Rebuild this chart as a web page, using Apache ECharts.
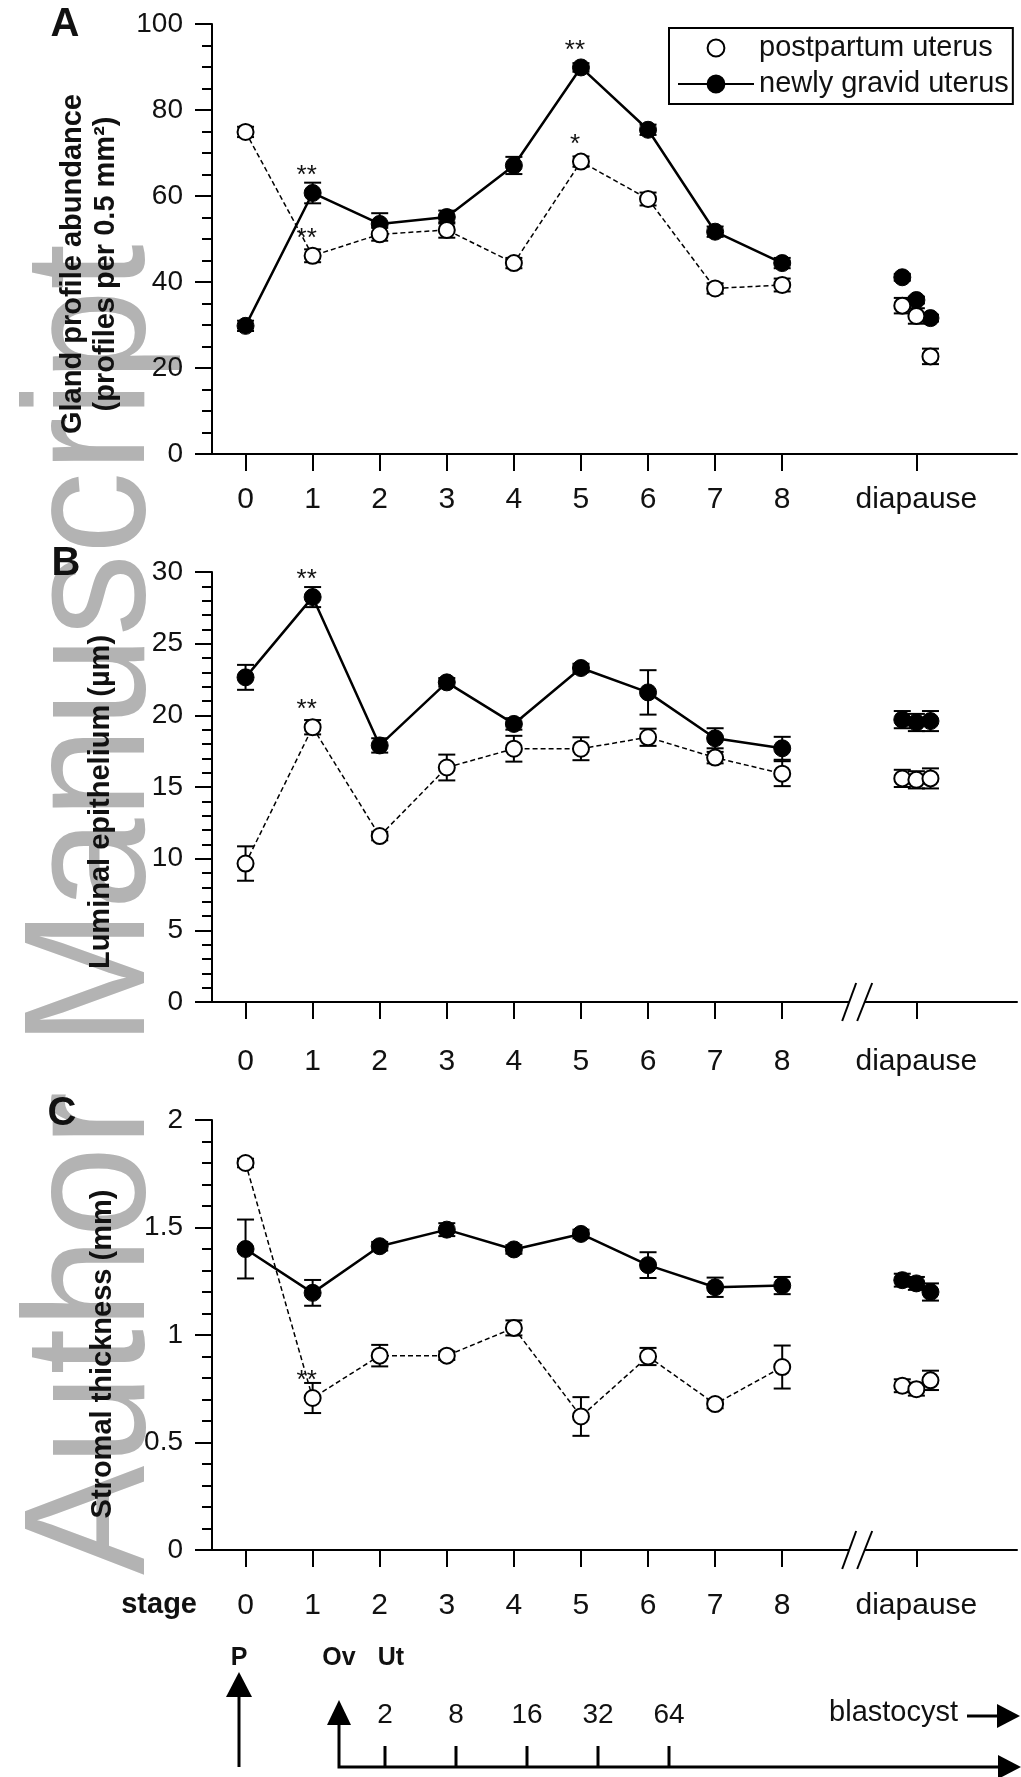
<!DOCTYPE html>
<html>
<head>
<meta charset="utf-8">
<script src="https://cdn.jsdelivr.net/npm/echarts@6/dist/echarts.min.js"></script>
<style>
html,body{margin:0;padding:0;background:#fff;}
#main{width:1021px;height:1777px;}
</style>
</head>
<body>
<div id="main"></div>
<script>
// ---------- data ----------
const stages = [0, 1, 2, 3, 4, 5, 6, 7, 8];
const diapX = [9.79, 10, 10.21];
const xTickValues = [0, 1, 2, 3, 4, 5, 6, 7, 8, 10];
const xTickLabels = ['0', '1', '2', '3', '4', '5', '6', '7', '8', 'diapause'];
const breakAt = [9.11];

// Panel A: gland profile abundance
const gravidA = [29.8, 60.7, 53.5, 55.1, 67.1, 89.9, 75.4, 51.7, 44.4];
const gravidA_err = [1.2, 2.4, 2.5, 1.5, 2.0, 1.0, 1.2, 1.2, 1.2];
const gravidA_diap = [41.1, 35.8, 31.6];
const gravidA_diapErr = [0.8, 0.8, 0.8];
const postA = [74.9, 46.1, 51.1, 52.1, 44.4, 68.0, 59.3, 38.5, 39.3];
const postA_err = [1.2, 1.5, 1.5, 1.8, 1.2, 1.2, 1.5, 1.2, 1.5];
const postA_diap = [34.5, 32.1, 22.7];
const postA_diapErr = [1.8, 1.8, 1.8];
const sigGravidA = ['', '**', '', '', '', '**', '', '', ''];
const sigPostA = ['', '**', '', '', '', '*', '', '', ''];

// Panel B: luminal epithelium
const gravidB = [22.65, 28.25, 17.9, 22.3, 19.4, 23.3, 21.6, 18.4, 17.7];
const gravidB_err = [0.87, 0.7, 0.5, 0.3, 0.4, 0.3, 1.55, 0.7, 0.8];
const gravidB_diap = [19.7, 19.5, 19.6];
const gravidB_diapErr = [0.6, 0.6, 0.7];
const postB = [9.66, 19.17, 11.58, 16.36, 17.67, 17.67, 18.47, 17.05, 15.93];
const postB_err = [1.2, 0.5, 0.3, 0.9, 0.9, 0.8, 0.6, 0.4, 0.87];
const postB_diap = [15.6, 15.5, 15.6];
const postB_diapErr = [0.6, 0.6, 0.7];
const sigGravidB = ['', '**', '', '', '', '', '', '', ''];
const sigPostB = ['', '**', '', '', '', '', '', '', ''];

// Panel C: stromal thickness
const gravidC = [1.40, 1.196, 1.413, 1.49, 1.398, 1.47, 1.325, 1.222, 1.23];
const gravidC_err = [0.137, 0.06, 0.02, 0.03, 0.02, 0.02, 0.06, 0.045, 0.04];
const gravidC_diap = [1.255, 1.24, 1.20];
const gravidC_diapErr = [0.03, 0.03, 0.04];
const postC = [1.80, 0.707, 0.904, 0.904, 1.033, 0.621, 0.90, 0.679, 0.851];
const postC_err = [0.02, 0.07, 0.05, 0.02, 0.035, 0.09, 0.04, 0.02, 0.10];
const postC_diap = [0.764, 0.748, 0.789];
const postC_diapErr = [0.03, 0.03, 0.045];
const sigGravidC = ['', '', '', '', '', '', '', '', ''];
const sigPostC = ['', '**', '', '', '', '', '', '', ''];

// embryo development diagram labels
const cellCounts = ['2', '8', '16', '32', '64'];

const namePost = 'postpartum uterus';
const nameGravid = 'newly gravid uterus';

// ---------- layout / style ----------
const FONT = '"Liberation Sans", Arial, Helvetica, sans-serif';
const INK = '#111';

const panels = [
  { top: 24, yMin: 0, yMax: 100, interval: 20, minorSplit: 4, labelMargin: 31,
    yName: 'Gland profile abundance\n(profiles per 0.5 mm²)', nameGap: 90, nameShift: 25,
    gravid: gravidA, gravidErr: gravidA_err, gravidDiap: gravidA_diap, gravidDiapErr: gravidA_diapErr,
    post: postA, postErr: postA_err, postDiap: postA_diap, postDiapErr: postA_diapErr,
    sigGravid: sigGravidA, sigPost: sigPostA, brk: false },
  { top: 572, yMin: 0, yMax: 30, interval: 5, minorSplit: 5, labelMargin: 45,
    yName: 'Luminal epithelium (µm)', nameGap: 95, nameShift: 15,
    gravid: gravidB, gravidErr: gravidB_err, gravidDiap: gravidB_diap, gravidDiapErr: gravidB_diapErr,
    post: postB, postErr: postB_err, postDiap: postB_diap, postDiapErr: postB_diapErr,
    sigGravid: sigGravidB, sigPost: sigPostB, brk: true },
  { top: 1120, yMin: 0, yMax: 2, interval: 0.5, minorSplit: 5, labelMargin: 41,
    yName: 'Stromal thickness (mm)', nameGap: 93, nameShift: 19,
    gravid: gravidC, gravidErr: gravidC_err, gravidDiap: gravidC_diap, gravidDiapErr: gravidC_diapErr,
    post: postC, postErr: postC_err, postDiap: postC_diap, postDiapErr: postC_diapErr,
    sigGravid: sigGravidC, sigPost: sigPostC, brk: true }
];

function errRender(params, api) {
  const x = api.value(0), y = api.value(1), e = api.value(2);
  const t = api.coord([x, y + e]);
  const b = api.coord([x, y - e]);
  const w = 8.5;
  const st = { stroke: '#000', lineWidth: 2 };
  return {
    type: 'group',
    children: [
      { type: 'line', shape: { x1: t[0], y1: t[1], x2: b[0], y2: b[1] }, style: st },
      { type: 'line', shape: { x1: t[0] - w, y1: t[1], x2: t[0] + w, y2: t[1] }, style: st },
      { type: 'line', shape: { x1: b[0] - w, y1: b[1], x2: b[0] + w, y2: b[1] }, style: st }
    ]
  };
}

function breakRender(params, api) {
  const c = api.coord([api.value(0), api.value(1)]);
  const cx = c[0], cy = c[1];
  const st = { stroke: '#000', lineWidth: 2 };
  return {
    type: 'group',
    children: [
      { type: 'rect', shape: { x: cx - 7, y: cy - 3, width: 15, height: 6 }, style: { fill: '#fff' } },
      { type: 'line', shape: { x1: cx - 14.5, y1: cy + 19, x2: cx - 0.5, y2: cy - 19 }, style: st },
      { type: 'line', shape: { x1: cx + 0.5, y1: cy + 19, x2: cx + 15.5, y2: cy - 19 }, style: st }
    ]
  };
}

const sigLabel = { fontSize: 26, color: INK, fontFamily: FONT, position: 'top', distance: -5, offset: [-6, 0] };

function withSig(values, sig) {
  return values.map((v, i) => {
    const item = { value: [stages[i], v] };
    if (sig[i]) item.label = Object.assign({ show: true, formatter: sig[i] }, sigLabel);
    return item;
  });
}

const grids = [], xAxes = [], yAxes = [], series = [];

panels.forEach((p, i) => {
  grids.push({ left: 212, width: 805, top: p.top, height: 430 });
  xAxes.push({
    gridIndex: i, type: 'value', min: -0.5, max: 11.5,
    axisLine: { onZero: false, lineStyle: { color: '#000', width: 2 } },
    axisTick: { show: true, customValues: xTickValues, length: 17, lineStyle: { color: '#000', width: 2 } },
    axisLabel: {
      customValues: xTickValues, fontSize: 30, fontFamily: FONT, color: INK, margin: p.labelMargin,
      formatter: v => { const k = xTickValues.indexOf(Math.round(v * 100) / 100); return k >= 0 ? xTickLabels[k] : ''; }
    },
    splitLine: { show: false }
  });
  yAxes.push({
    gridIndex: i, type: 'value', min: p.yMin, max: p.yMax, interval: p.interval,
    axisLine: { show: true, onZero: false, lineStyle: { color: '#000', width: 2 } },
    axisTick: { show: true, length: 17, lineStyle: { color: '#000', width: 2 } },
    minorTick: { show: true, splitNumber: p.minorSplit, length: 10, lineStyle: { color: '#000', width: 2 } },
    axisLabel: { fontSize: 28, fontFamily: FONT, color: INK, margin: 29 },
    splitLine: { show: false },
    name: p.yName, nameLocation: 'middle', nameRotate: 90, nameGap: p.nameGap,
    nameTextStyle: { fontSize: 29, fontWeight: 'bold', fontFamily: FONT, color: INK, lineHeight: 33,
      padding: [0, 2 * p.nameShift, 0, 0] }
  });

  const errData = [];
  stages.forEach((s, k) => { errData.push([s, p.gravid[k], p.gravidErr[k]]); errData.push([s, p.post[k], p.postErr[k]]); });
  diapX.forEach((s, k) => { errData.push([s, p.gravidDiap[k], p.gravidDiapErr[k]]); errData.push([s, p.postDiap[k], p.postDiapErr[k]]); });

  series.push({
    type: 'custom', name: 'err' + i, xAxisIndex: i, yAxisIndex: i, z: 1, clip: false,
    renderItem: errRender, encode: { x: 0, y: 1 }, data: errData, silent: true
  });

  series.push({
    type: 'line', name: nameGravid, xAxisIndex: i, yAxisIndex: i, z: 3,
    symbol: 'circle', symbolSize: 17, showAllSymbol: true,
    itemStyle: { color: '#000', borderColor: '#000', borderWidth: 1 },
    lineStyle: { color: '#000', width: 2.5 },
    data: withSig(p.gravid, p.sigGravid)
  });
  series.push({
    type: 'line', name: namePost, xAxisIndex: i, yAxisIndex: i, z: 4,
    symbol: 'circle', symbolSize: 16, showAllSymbol: true,
    itemStyle: { color: '#fff', borderColor: '#000', borderWidth: 2 },
    lineStyle: { color: '#000', width: 1.5, type: [5, 3] },
    data: withSig(p.post, p.sigPost)
  });
  series.push({
    type: 'scatter', name: nameGravid, xAxisIndex: i, yAxisIndex: i, z: 3,
    symbol: 'circle', symbolSize: 17,
    itemStyle: { color: '#000', borderColor: '#000', borderWidth: 1, opacity: 1 },
    data: diapX.map((x, k) => [x, p.gravidDiap[k]])
  });
  series.push({
    type: 'scatter', name: namePost, xAxisIndex: i, yAxisIndex: i, z: 4,
    symbol: 'circle', symbolSize: 16,
    itemStyle: { color: '#fff', borderColor: '#000', borderWidth: 2, opacity: 1 },
    data: diapX.map((x, k) => [x, p.postDiap[k]])
  });
  if (p.brk) {
    series.push({
      type: 'custom', name: 'break' + i, xAxisIndex: i, yAxisIndex: i, z: 5, clip: false, silent: true,
      renderItem: breakRender, encode: { x: 0, y: 1 }, data: breakAt.map(b => [b, p.yMin])
    });
  }
});

// ---------- decorations ----------
function txt(x, y, text, size, bold, align) {
  return { type: 'text', x: x, y: y, z: 10,
    style: { text: text, fontSize: size, fontWeight: bold ? 'bold' : 'normal', fontFamily: FONT, fill: INK,
      textAlign: align || 'center', textVerticalAlign: 'middle' } };
}
function ln(x1, y1, x2, y2) {
  return { type: 'line', z: 10, shape: { x1, y1, x2, y2 }, style: { stroke: '#000', lineWidth: 3 } };
}
function tri(points) {
  return { type: 'polygon', z: 10, shape: { points: points }, style: { fill: '#000' } };
}

const cellX = [385, 456, 527, 598, 669];
const graphics = [
  { type: 'text', x: 183, y: 1575, rotation: Math.PI / 2, scaleX: 1, scaleY: 1.05, z: -10, silent: true,
    style: { text: 'Author Manuscript', fontSize: 164, fontFamily: FONT, fill: '#b3b3b3',
      textAlign: 'left', textVerticalAlign: 'bottom' } },
  txt(65, 25, 'A', 40, true), txt(66, 564, 'B', 40, true), txt(62, 1114, 'C', 40, true),
  txt(197, 1605, 'stage', 29, true, 'right'),
  txt(239, 1658, 'P', 25, true), txt(339, 1658, 'Ov', 25, true), txt(391, 1658, 'Ut', 25, true),
  ln(239, 1767, 239, 1694), tri([[226, 1697], [252, 1697], [239, 1672]]),
  { type: 'polyline', z: 10, shape: { points: [[339, 1722], [339, 1767], [1000, 1767]] },
    style: { stroke: '#000', lineWidth: 3, fill: null } },
  tri([[327, 1725], [351, 1725], [339, 1700]]),
  tri([[998, 1755], [998, 1779], [1021, 1767]]),
  txt(958, 1713, 'blastocyst', 29, false, 'right'),
  ln(967, 1716, 999, 1716), tri([[997, 1704], [997, 1728], [1020, 1716]])
];
cellCounts.forEach((c, k) => {
  graphics.push(ln(cellX[k], 1746, cellX[k], 1767));
  graphics.push(txt(cellX[k], 1715, c, 28, false));
});

const option = {
  animation: false,
  backgroundColor: '#fff',
  textStyle: { fontFamily: FONT },
  grid: grids,
  xAxis: xAxes,
  yAxis: yAxes,
  legend: {
    orient: 'vertical', left: 669, top: 28, padding: [4, 4, 4, 8],
    itemWidth: 76, itemHeight: 21, itemGap: 4,
    borderColor: '#000', borderWidth: 2,
    textStyle: { fontSize: 29, fontFamily: FONT, color: INK, lineHeight: 32 },
    data: [ { name: namePost, lineStyle: { opacity: 0 } }, { name: nameGravid } ]
  },
  series: series,
  graphic: { elements: graphics }
};

const chart = echarts.init(document.getElementById('main'), null, { renderer: 'canvas' });
chart.setOption(option);
</script>
</body>
</html>
